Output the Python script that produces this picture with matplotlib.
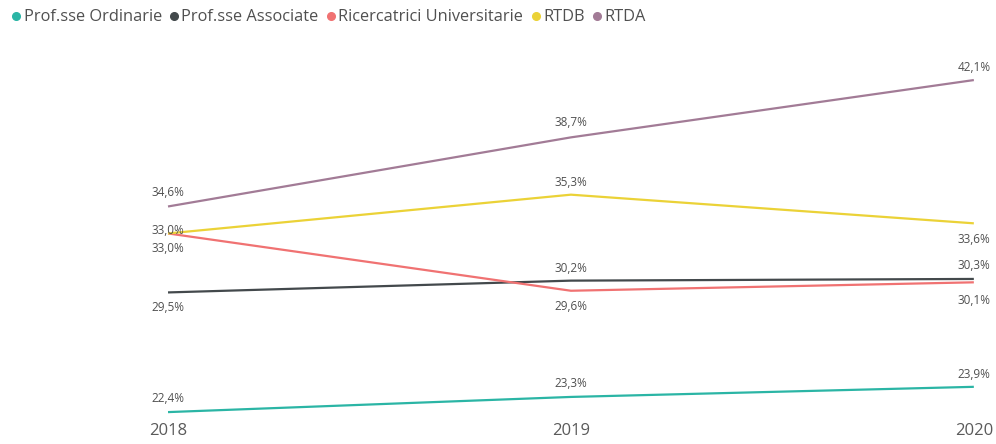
import matplotlib.pyplot as plt
from matplotlib.lines import Line2D

years = ['2018', '2019', '2020']
series = ['Prof.sse Ordinarie', 'Prof.sse Associate', 'Ricercatrici Universitarie', 'RTDB', 'RTDA']
ordinarie = [22.4, 23.3, 23.9]
associate = [29.5, 30.2, 30.3]
ricercatrici = [33.0, 29.6, 30.1]
rtdb = [33.0, 35.3, 33.6]
rtda = [34.6, 38.7, 42.1]

colors = ['#2bb5a5', '#43494c', '#f07272', '#ebd237', '#a27b96']
# label offset in points from each point (positive = above)
label_offsets = [
    [10, 10, 9],
    [-11, 9, 10],
    [-11, -11, -13],
    [2, 9, -12],
    [10, 11, 9],
]

plt.rcParams['font.family'] = ['Open Sans', 'DejaVu Sans']
fig = plt.figure(figsize=(9.96, 4.44), dpi=100)
ax = fig.add_axes([0, 0.054, 1, 0.946])

x = range(len(years))
data = [ordinarie, associate, ricercatrici, rtdb, rtda]
for vals, col, offs in zip(data, colors, label_offsets):
    ax.plot(x, vals, color=col, lw=1.6, solid_capstyle='butt')
    for xi, v, o in zip(x, vals, offs):
        ax.annotate(f'{v:.1f}%'.replace('.', ','), (xi, v), xytext=(0, o),
                    textcoords='offset points', ha='center', va='center',
                    fontsize=8.5, color='#505050')

ax.set_xlim(-0.417, 2.055)
ax.set_ylim(21.93, 46.85)
ax.set_xticks(list(x))
ax.set_xticklabels(years, fontsize=12, color='#5a5a5a')
ax.tick_params(axis='x', length=0, pad=2)
ax.set_yticks([])
for s in ax.spines.values():
    s.set_visible(False)

handles = [Line2D([], [], marker='o', ls='', color=c, markersize=5.5) for c in colors]
fig.legend(handles, series, loc='upper left', bbox_to_anchor=(-0.006, 1.012), ncol=5,
           frameon=False, fontsize=11.8, handletextpad=0.0, columnspacing=0.3,
           handlelength=0.9, labelcolor='#505050')

fig.savefig('out.png', dpi=100)
